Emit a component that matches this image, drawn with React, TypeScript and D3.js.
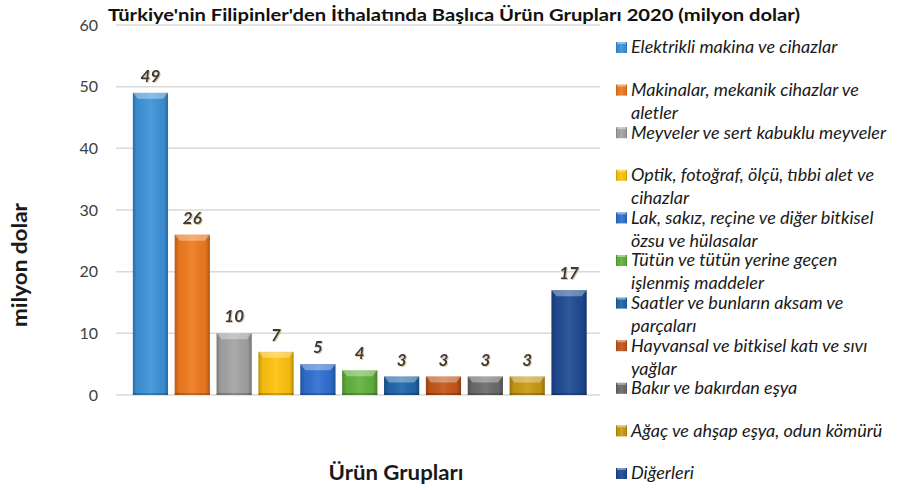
import React from 'react';
import * as d3 from 'd3';

const categories = [
  'Elektrikli makina ve cihazlar',
  'Makinalar, mekanik cihazlar ve aletler',
  'Meyveler ve sert kabuklu meyveler',
  'Optik, fotoğraf, ölçü, tıbbi alet ve cihazlar',
  'Lak, sakız, reçine ve diğer bitkisel özsu ve hülasalar',
  'Tütün ve tütün yerine geçen işlenmiş maddeler',
  'Saatler ve bunların aksam ve parçaları',
  'Hayvansal ve bitkisel katı ve sıvı yağlar',
  'Bakır ve bakırdan eşya',
  'Ağaç ve ahşap eşya, odun kömürü',
  'Diğerleri',
];
const legendLines = [
  ['Elektrikli makina ve cihazlar'],
  ['Makinalar, mekanik cihazlar ve', 'aletler'],
  ['Meyveler ve sert kabuklu meyveler'],
  ['Optik, fotoğraf, ölçü, tıbbi alet ve', 'cihazlar'],
  ['Lak, sakız, reçine ve diğer bitkisel', 'özsu ve hülasalar'],
  ['Tütün ve tütün yerine geçen', 'işlenmiş maddeler'],
  ['Saatler ve bunların aksam ve', 'parçaları'],
  ['Hayvansal ve bitkisel katı ve sıvı', 'yağlar'],
  ['Bakır ve bakırdan eşya'],
  ['Ağaç ve ahşap eşya, odun kömürü'],
  ['Diğerleri'],
];
const values = [49, 26, 10, 7, 5, 4, 3, 3, 3, 3, 17];
const colors = [
  '#3d93d9', '#f07a1e', '#a3a3a3', '#ffc20e', '#2f6fd0', '#62b23d',
  '#1f66aa', '#c4561a', '#6b6b6b', '#c99a12', '#1f4a94',
];
const yTicks = [0, 10, 20, 30, 40, 50, 60];

const font = 'Lato, "Open Sans", sans-serif';

export default function App() {
  const y = d3.scaleLinear().domain([0, 60]).range([395, 25]);
  const x = d3.scaleBand<number>()
    .domain(d3.range(values.length))
    .range([129.5, 590])
    .paddingInner(0.16)
    .paddingOuter(0.08);
  const legendY = d3.scalePoint<number>()
    .domain(d3.range(categories.length))
    .range([47, 473]);

  return (
    <svg width={908} height={490} style={{ position: 'absolute', left: 0, top: 0, background: '#fff' }}
      fontFamily={font}>
      <defs>
        <linearGradient id="shade" x1="0" x2="1" y1="0" y2="0">
          <stop offset="0" stopColor="#000" stopOpacity={0.25} />
          <stop offset="0.12" stopColor="#000" stopOpacity={0.05} />
          <stop offset="0.5" stopColor="#fff" stopOpacity={0.08} />
          <stop offset="0.88" stopColor="#000" stopOpacity={0.05} />
          <stop offset="1" stopColor="#000" stopOpacity={0.28} />
        </linearGradient>
        <filter id="tshadow" x="-20%" y="-20%" width="140%" height="140%">
          <feDropShadow dx="1" dy="1" stdDeviation="0.6" floodColor="#c8a060" floodOpacity="0.6" />
        </filter>
      </defs>

      {/* grid */}
      {yTicks.map(t => (
        <g key={t}>
          <line x1={116} x2={600} y1={y(t)} y2={y(t)} stroke="#d9d9d9" strokeWidth={1.5} />
          <text x={98} y={y(t)} dy="0.36em" textAnchor="end" fontSize={16} fill="#404040">{t}</text>
        </g>
      ))}

      {/* bars */}
      {values.map((v, i) => {
        const bx = x(i)!;
        const bw = x.bandwidth();
        const top = y(v);
        const h = y(0) - top;
        const bev = Math.min(6, h / 2);
        return (
          <g key={i}>
            <rect x={bx} y={top} width={bw} height={h} fill={colors[i]} />
            <rect x={bx} y={top} width={bw} height={h} fill="url(#shade)" />
            <path d={`M${bx},${top}L${bx + bw},${top}L${bx + bw - 5},${top + bev}L${bx + 5},${top + bev}Z`}
              fill="#fff" opacity={0.35} />
            <rect x={bx} y={y(0) - 2} width={bw} height={2} fill="#000" opacity={0.2} />
            <text x={bx + bw / 2} y={top - 11} textAnchor="middle" fontSize={17} fontWeight="bold"
              fontStyle="italic" fill="#3a3a3a" filter="url(#tshadow)">{v}</text>
          </g>
        );
      })}

      {/* title */}
      <text x={454} y={21} textAnchor="middle" fontSize={17.5} fontWeight="bold" fill="#111"
        textLength={692} lengthAdjust="spacingAndGlyphs">
        Türkiye'nin Filipinler'den İthalatında Başlıca Ürün Grupları 2020 (milyon dolar)
      </text>

      {/* axis titles */}
      <text x={396} y={480} textAnchor="middle" fontSize={20} fontWeight="bold" fill="#1a1a1a"
        textLength={135} lengthAdjust="spacingAndGlyphs">Ürün Grupları</text>
      <text transform="translate(27,265) rotate(-90)" textAnchor="middle" fontSize={20} fontWeight="bold"
        fill="#1a1a1a" textLength={124} lengthAdjust="spacingAndGlyphs">milyon dolar</text>

      {/* legend */}
      {legendLines.map((lines, i) => {
        const ly = legendY(i)!;
        return (
          <g key={i}>
            <rect x={616} y={ly - 5} width={11} height={11} fill={colors[i]} />
            <rect x={616} y={ly - 5} width={11} height={11} fill="url(#shade)" />
            <rect x={617} y={ly - 5} width={9} height={2} fill="#fff" opacity={0.4} />
            {lines.map((l, j) => (
              <text key={j} x={631} y={ly + j * 23} dy="0.36em" fontSize={18} fontStyle="italic"
                fill="#1a1a1a">{l}</text>
            ))}
          </g>
        );
      })}
    </svg>
  );
}
